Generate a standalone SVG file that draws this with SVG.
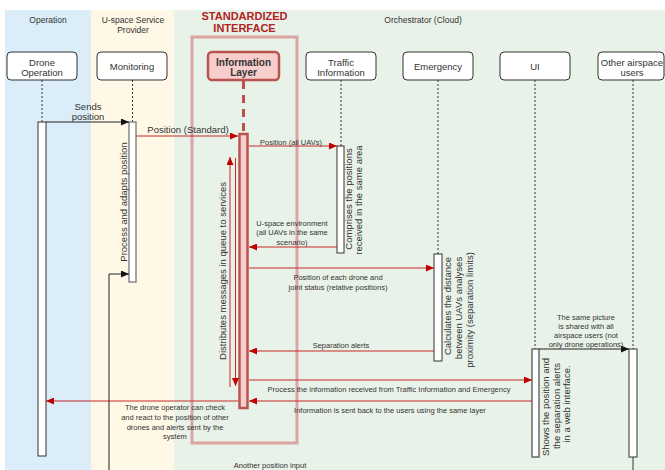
<svg xmlns="http://www.w3.org/2000/svg" width="665" height="470" viewBox="0 0 665 470">
<defs>
<style>
text{font-family:"Liberation Sans",Arial,sans-serif;fill:#333;}
.lane{font-size:8.5px;text-anchor:middle;}
.nt{font-size:9.5px;text-anchor:middle;dominant-baseline:central;}
.lb{font-size:9.5px;text-anchor:middle;dominant-baseline:central;}
.sm{font-size:7.5px;text-anchor:middle;dominant-baseline:central;}
.rot{font-size:9.5px;text-anchor:middle;dominant-baseline:central;}
.node{fill:#fff;stroke:#333;stroke-width:1;}
.life{stroke:#333;stroke-width:1;stroke-dasharray:2,2;fill:none;}
.bar{fill:#fff;stroke:#333;stroke-width:1;}
.red{stroke:#c62828;stroke-width:1;fill:none;marker-end:url(#ra);}
.blk{stroke:#222;stroke-width:1;fill:none;marker-end:url(#ba);}
</style>
<marker id="ra" markerUnits="userSpaceOnUse" markerWidth="8" markerHeight="7" refX="8" refY="3.5" orient="auto"><path d="M0,0 L8,3.5 L0,7 Z" fill="#c00000"/></marker>
<marker id="ba" markerUnits="userSpaceOnUse" markerWidth="8" markerHeight="7" refX="8" refY="3.5" orient="auto"><path d="M0,0 L8,3.5 L0,7 Z" fill="#111"/></marker>
</defs>
<rect x="0" y="0" width="665" height="470" fill="#fff"/>
<g id="lanes">
<rect x="5" y="10" width="86" height="460" fill="#daedf8"/>
<rect x="91" y="10" width="83" height="460" fill="#fff8e6"/>
<rect x="174" y="10" width="491" height="460" fill="#e9f2e8"/>
<text class="lane" x="48" y="23">Operation</text>
<text class="lane" x="133" y="23">U-space Service</text>
<text class="lane" x="133" y="33">Provider</text>
<text class="lane" x="423" y="23">Orchestrator (Cloud)</text>
</g>
<g id="standardized-interface">
<rect x="192" y="37" width="105" height="406" fill="none" stroke="#dba5a3" stroke-width="3"/>
<text x="244.5" y="20" style="font-size:11px;font-weight:bold;fill:#b22222;text-anchor:middle">STANDARDIZED</text>
<text x="244.5" y="32" style="font-size:11px;font-weight:bold;fill:#b22222;text-anchor:middle">INTERFACE</text>
</g>
<g id="lifelines">
<line class="life" x1="42" y1="80" x2="42" y2="122"/>
<line class="life" x1="132.5" y1="80" x2="132.5" y2="122"/>
<line x1="243.5" y1="81" x2="243.5" y2="134" stroke="#c0504d" stroke-width="3" stroke-dasharray="8,6"/>
<line class="life" x1="341" y1="80" x2="341" y2="146"/>
<line class="life" x1="438" y1="80" x2="438" y2="254"/>
<line class="life" x1="535" y1="80" x2="535" y2="349"/>
<line class="life" x1="633" y1="80" x2="633" y2="349"/>
<line x1="633" y1="457" x2="633" y2="470" stroke="#333" stroke-width="1"/>
</g>
<g id="drone-operation">
<rect class="node" x="7" y="52" width="70" height="28" rx="4"/>
<text class="nt" x="42" y="62">Drone</text>
<text class="nt" x="42" y="72">Operation</text>
<rect class="bar" x="38" y="122" width="8" height="334"/>
</g>
<g id="monitoring">
<rect class="node" x="97" y="52" width="70" height="28" rx="4"/>
<text class="nt" x="132" y="66">Monitoring</text>
<rect x="129" y="122" width="7" height="160" fill="#fff" stroke="#888" stroke-width="1.5"/>
<text class="rot" transform="translate(123,202) rotate(-90)">Process and adapts position</text>
</g>
<g id="information-layer">
<rect x="208" y="52" width="71" height="28" rx="4" fill="#f8cecc" stroke="#b85450" stroke-width="2.5"/>
<text class="nt" x="243.5" y="62" style="font-weight:bold;font-size:10px">Information</text>
<text class="nt" x="243.5" y="72" style="font-weight:bold;font-size:10px">Layer</text>
<rect x="239.5" y="134" width="8" height="274" fill="#f8cecc" stroke="#b85450" stroke-width="2.5"/>
</g>
<g id="traffic-information">
<rect class="node" x="306" y="52" width="70" height="28" rx="4"/>
<text class="nt" x="341" y="62">Traffic</text>
<text class="nt" x="341" y="72">Information</text>
<rect class="bar" x="337" y="146" width="7" height="107"/>
<text class="rot" transform="translate(348,199) rotate(-90)">Comprises the positions</text>
<text class="rot" transform="translate(358,200) rotate(-90)">received in the same area</text>
</g>
<g id="emergency">
<rect class="node" x="403" y="52" width="70" height="28" rx="4"/>
<text class="nt" x="438" y="66">Emergency</text>
<rect class="bar" x="434" y="254" width="8" height="107"/>
<text class="rot" transform="translate(447,306) rotate(-90)">Calculates the distance</text>
<text class="rot" transform="translate(458,308) rotate(-90)">between UAVs analyses</text>
<text class="rot" transform="translate(469,310) rotate(-90)">proximity (separation limits)</text>
</g>
<g id="ui">
<rect class="node" x="500" y="52" width="70" height="28" rx="4"/>
<text class="nt" x="535" y="66">UI</text>
<rect x="532" y="349" width="7" height="108" fill="#fff" stroke="#555" stroke-width="1.3"/>
<text class="rot" transform="translate(545,407) rotate(-90)">Shows the position and</text>
<text class="rot" transform="translate(556,406) rotate(-90)">the separation alerts</text>
<text class="rot" transform="translate(566,404) rotate(-90)">in a web interface.</text>
</g>
<g id="other-airspace-users">
<rect class="node" x="598" y="52" width="66" height="28" rx="4"/>
<text class="nt" x="632" y="62">Other airspace</text>
<text class="nt" x="632" y="72">users</text>
<rect class="bar" x="629" y="349" width="8" height="108"/>
</g>
<g id="connectors">
<line class="blk" x1="46" y1="122" x2="129" y2="122"/>
<text class="lb" x="88" y="106">Sends</text>
<text class="lb" x="88" y="116">position</text>
<line class="red" x1="136" y1="136" x2="238" y2="136"/>
<text class="lb" x="188" y="129">Position (Standard)</text>
<line class="red" x1="249" y1="146" x2="337" y2="146"/>
<text class="sm" x="291" y="142">Position (all UAVs)</text>
<line class="red" x1="337" y1="247" x2="249" y2="247"/>
<text class="sm" x="292" y="223">U-space environment</text>
<text class="sm" x="292" y="232">(all UAVs in the same</text>
<text class="sm" x="292" y="242">scenario)</text>
<line class="red" x1="249" y1="268" x2="434" y2="268"/>
<text class="sm" x="338" y="277">Position of each drone and</text>
<text class="sm" x="338" y="287">joint status (relative positions)</text>
<line class="red" x1="434" y1="351" x2="249" y2="351"/>
<text class="sm" x="341" y="345">Separation alerts</text>
<line class="red" x1="249" y1="380" x2="532" y2="380"/>
<text class="sm" x="389" y="389">Process the information received from Traffic Information and Emergency</text>
<line class="red" x1="532" y1="401" x2="249" y2="401"/>
<text class="sm" x="390" y="410">Information is sent back to the users using the same layer</text>
<line class="red" x1="238" y1="401" x2="46" y2="401"/>
<text class="sm" x="175" y="407">The drone operator can check</text>
<text class="sm" x="175" y="417">and react to the position of other</text>
<text class="sm" x="175" y="427">drones and alerts sent by the</text>
<text class="sm" x="175" y="436">system</text>
<line class="blk" x1="539" y1="349" x2="629" y2="349"/>
<text class="sm" x="586" y="317">The same picture</text>
<text class="sm" x="586" y="326">is shared with all</text>
<text class="sm" x="586" y="335">airspace users (not</text>
<text class="sm" x="586" y="344">only drone operations)</text>
<path class="blk" d="M109,470 V274 H129"/>
<text class="sm" x="270" y="465">Another position input</text>
<line class="red" x1="230" y1="387" x2="230" y2="157"/>
<line class="red" x1="235.5" y1="158" x2="235.5" y2="386"/>
<text class="rot" transform="translate(222,271) rotate(-90)">Distributes messages in queue to services</text>
</g>
</svg>
